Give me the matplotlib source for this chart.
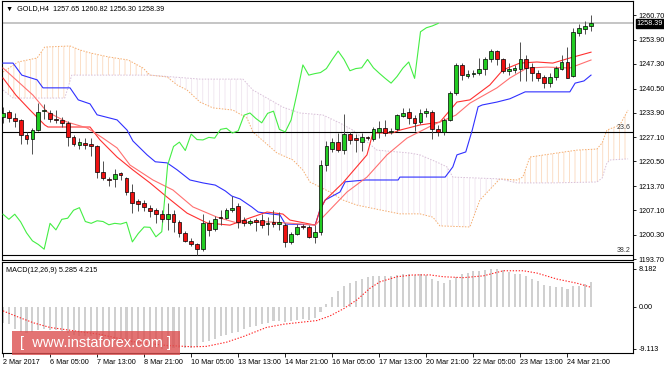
import numpy as np
import matplotlib.pyplot as plt
from matplotlib.patches import Rectangle
import matplotlib.transforms as mtransforms

plt.rcParams['font.family'] = ['Liberation Sans', 'DejaVu Sans']
plt.rcParams['hatch.linewidth'] = 0.5

# GOLD H4 candles, bar 0..100
opens = [1232.8, 1234.2, 1232.5, 1231.9, 1227.8, 1226.7, 1229.0, 1234.4, 1233.9, 1232.2,
         1231.9, 1231.0, 1227.3, 1225.0, 1225.6, 1225.3, 1224.6, 1217.5, 1215.7, 1215.6,
         1217.3, 1216.0, 1212.2, 1209.6, 1209.0, 1207.8, 1207.1, 1206.0, 1204.6, 1206.0,
         1203.9, 1200.9, 1198.7, 1197.7, 1196.4, 1203.5, 1201.9, 1205.3, 1205.0, 1207.1,
         1208.2, 1204.4, 1203.5, 1204.3, 1204.4, 1203.2, 1203.8, 1203.3, 1203.0, 1198.4,
         1200.7, 1202.7, 1202.4, 1199.8, 1201.2, 1219.5, 1224.0, 1225.8, 1223.5, 1228.0,
         1226.8, 1225.9, 1227.0, 1226.6, 1228.5, 1229.6, 1228.5, 1229.3, 1233.1, 1234.0,
         1232.3, 1231.4, 1233.7, 1234.2, 1229.3, 1228.6, 1231.9, 1239.2, 1247.0, 1244.0,
         1244.4, 1244.9, 1245.8, 1248.5, 1250.8, 1248.5, 1245.4, 1245.6, 1245.9, 1248.6,
         1246.5, 1244.7, 1243.8, 1242.0, 1243.8, 1246.0, 1247.9, 1244.0, 1255.9, 1256.9,
         1257.65]
highs = [1235.5, 1234.6, 1233.7, 1232.2, 1228.5, 1229.6, 1236.5, 1236.3, 1234.5, 1234.6,
         1232.6, 1231.6, 1227.7, 1226.8, 1226.8, 1226.8, 1224.9, 1220.5, 1216.3, 1218.4,
         1217.7, 1216.2, 1214.2, 1210.2, 1209.8, 1208.5, 1207.6, 1207.1, 1209.1, 1207.1,
         1204.5, 1201.3, 1199.5, 1198.0, 1206.0, 1204.4, 1205.5, 1207.1, 1207.8, 1211.1,
         1209.1, 1205.3, 1204.8, 1204.9, 1206.0, 1205.3, 1207.1, 1206.6, 1203.5, 1201.2,
         1203.3, 1203.3, 1203.1, 1203.0, 1220.9, 1226.0, 1226.8, 1228.2, 1233.5, 1228.7,
         1228.0, 1228.3, 1227.6, 1229.9, 1231.7, 1231.8, 1229.6, 1233.5, 1235.1, 1235.1,
         1233.3, 1234.8, 1235.1, 1234.5, 1230.5, 1232.3, 1239.9, 1247.5, 1247.5, 1245.7,
         1245.5, 1248.8, 1249.3, 1251.4, 1251.1, 1249.0, 1247.5, 1247.0, 1253.2, 1249.8,
         1247.5, 1245.5, 1244.2, 1244.7, 1246.7, 1249.7, 1252.0, 1257.0, 1258.1, 1259.0,
         1260.82]
lows = [1231.1, 1231.4, 1230.0, 1225.2, 1225.3, 1222.4, 1228.8, 1232.2, 1231.3, 1231.0,
        1229.9, 1224.7, 1224.6, 1223.8, 1223.9, 1222.0, 1216.0, 1215.4, 1213.8, 1213.5,
        1215.5, 1211.3, 1206.2, 1206.8, 1207.0, 1205.3, 1203.5, 1203.9, 1201.7, 1201.2,
        1199.8, 1198.4, 1197.3, 1194.9, 1196.0, 1199.9, 1201.5, 1203.0, 1204.6, 1206.7,
        1202.2, 1202.9, 1203.1, 1201.5, 1202.2, 1200.3, 1202.4, 1201.8, 1197.0, 1197.9,
        1200.3, 1201.9, 1199.5, 1198.1, 1200.3, 1217.8, 1223.2, 1223.2, 1222.5, 1225.2,
        1223.0, 1223.3, 1226.4, 1226.2, 1226.9, 1227.5, 1228.0, 1228.8, 1232.6, 1230.9,
        1228.8, 1230.7, 1232.7, 1226.6, 1227.5, 1227.7, 1231.5, 1238.7, 1242.9, 1243.4,
        1243.6, 1244.2, 1244.2, 1247.8, 1247.0, 1244.9, 1244.2, 1244.8, 1242.5, 1242.5,
        1242.5, 1242.6, 1240.6, 1241.0, 1242.9, 1245.6, 1243.3, 1243.6, 1255.0, 1255.6,
        1256.30]
closes = [1233.8, 1232.3, 1231.7, 1227.8, 1226.7, 1229.2, 1234.2, 1234.6, 1232.1, 1231.8,
          1231.0, 1227.3, 1225.2, 1225.7, 1225.0, 1224.6, 1217.5, 1215.9, 1215.3, 1217.1,
          1216.7, 1212.2, 1209.0, 1208.7, 1208.1, 1207.0, 1206.0, 1204.6, 1206.0, 1203.9,
          1200.9, 1198.7, 1197.7, 1196.4, 1203.5, 1201.7, 1204.6, 1204.9, 1207.1, 1207.8,
          1204.0, 1203.5, 1204.2, 1204.0, 1203.1, 1203.5, 1203.3, 1203.8, 1198.4, 1200.7,
          1202.5, 1202.4, 1199.8, 1201.2, 1219.5, 1224.6, 1225.8, 1223.5, 1228.0, 1226.5,
          1226.4, 1227.1, 1226.9, 1229.3, 1229.6, 1228.3, 1228.9, 1233.2, 1233.8, 1232.3,
          1231.1, 1233.7, 1234.3, 1229.3, 1228.6, 1231.9, 1239.2, 1247.0, 1244.2, 1244.6,
          1244.9, 1246.0, 1248.5, 1250.8, 1248.5, 1245.4, 1246.0, 1246.2, 1248.5, 1246.2,
          1244.7, 1243.3, 1242.0, 1243.8, 1246.1, 1247.8, 1243.3, 1256.1, 1257.2, 1257.7,
          1258.39]

# Ichimoku lines (bar position, price)
kijun_x = [0, 1.7, 3.2, 5.8, 6.8, 11.4, 12.8, 14.8, 16, 19.4, 21.1, 22.1, 24.5, 25.9, 27.9,
           29.6, 31.8, 34, 36.1, 37.8, 38.9, 40.3, 42.3, 43.4, 45.4, 47.1, 48, 53.1, 53.9,
           54.8, 57.3, 58.2, 61.6, 67.2, 67.5, 75.2, 76.5, 77.2, 78.7, 79.8, 80.8, 81.5,
           84, 86.2, 88.8, 96.4, 97.3, 98.8, 100]
kijun_y = [1247.5, 1247.5, 1244.2, 1242.9, 1240.7, 1240.7, 1237.4, 1236.3, 1233.3, 1231.9,
           1229.1, 1226.1, 1222.3, 1220.4, 1220.1, 1218.2, 1215.4, 1214.6, 1214.0, 1212.4,
           1211.0, 1210.2, 1208.0, 1206.6, 1206.1, 1205.8, 1203.3, 1203.1, 1207.2, 1209.9,
           1212.1, 1214.9, 1215.4, 1215.4, 1216.2, 1216.2, 1219.0, 1222.3, 1223.1, 1229.1,
           1235.5, 1236.0, 1236.8, 1237.7, 1239.6, 1239.6, 1242.0, 1242.6, 1244.2]

tenkan_x = [0, 2.2, 4.6, 7.1, 7.65, 14.8, 16.5, 19.4, 22.1, 25.0, 27.9, 31.3, 34.7, 38.6,
            42.0, 44.9, 47.6, 48.8, 53.1, 53.9, 54.8, 57.8, 61.9, 62.9, 66.2, 67.5, 70.9,
            74.3, 77.2, 79.4, 82.8, 85.0, 87.9, 90.8, 93.5, 96.4, 100]
tenkan_y = [1243.4, 1238.7, 1234.6, 1230.5, 1229.95, 1229.95, 1226.4, 1221.7, 1218.15, 1214.6,
            1210.7, 1206.3, 1203.6, 1203.0, 1205.0, 1206.6, 1206.05, 1204.4, 1203.0, 1207.2,
            1209.9, 1214.6, 1222.3, 1228.3, 1228.3, 1229.1, 1230.5, 1231.3, 1236.8, 1237.4,
            1241.5, 1245.6, 1247.5, 1247.8, 1247.5, 1248.9, 1250.5]

ma_x = [0, 5.1, 7.5, 10.9, 14.3, 17.0, 19.4, 21.6, 25.5, 28.9, 32.3, 36.4, 39.8, 44.9, 48.3,
        53.1, 58.5, 61.9, 65.3, 68.7, 73.1, 77.0, 79.4, 84.0, 86.2, 89.1, 92.5, 96.4, 100]
ma_y = [1246.15, 1238.7, 1234.1, 1231.3, 1229.7, 1226.9, 1224.2, 1219.5, 1215.4, 1212.65,
        1208.0, 1205.2, 1203.6, 1203.9, 1203.6, 1203.0, 1212.1, 1216.2, 1222.3, 1226.9,
        1230.5, 1233.2, 1236.5, 1240.7, 1243.4, 1246.15, 1246.4, 1246.15, 1248.35]

span_a_x = [0, 2.55, 5.8, 7.1, 11.4, 13.1, 14.8, 17.9, 21.3, 23.8, 25.0, 27.9, 29.6, 31.3,
            33.5, 35.7, 39.1, 41.5, 42.5, 46.6, 49.3, 51.0, 52.2, 55.6, 57.8, 60.2, 64.1,
            67.5, 70.9, 73.1, 74.3, 79.4, 81.1, 84.5, 87.4, 88.4, 89.6, 94.2, 97.6, 101.0,
            101.9, 102.7, 104.9, 106.3]
span_a_y = [1245.05, 1247.8, 1248.9, 1251.9, 1252.2, 1251.1, 1250.3, 1249.2, 1248.35, 1246.15,
            1244.2, 1243.7, 1241.5, 1240.1, 1236.8, 1235.2, 1234.6, 1232.4, 1228.6, 1222.8,
            1220.9, 1218.1, 1214.85, 1212.1, 1209.9, 1208.5, 1207.2, 1206.1, 1206.1, 1205.2,
            1202.8, 1202.5, 1209.9, 1215.7, 1215.4, 1216.2, 1221.7, 1222.8, 1223.6, 1223.9,
            1225.6, 1229.1, 1230.5, 1234.6]
span_b_x = [0, 1.7, 10.5, 11.7, 25.0, 33.5, 40.8, 42.5, 47.6, 50.5, 54.4, 57.3, 59.5, 63.6,
            69.2, 70.9, 73.8, 75.5, 76.5, 84.5, 87.4, 93.5, 101.0, 101.9, 102.7, 103.3, 106.3]
span_b_y = [1240.1, 1237.9, 1237.9, 1244.2, 1244.2, 1243.1, 1243.1, 1240.1, 1235.4, 1233.8,
            1233.25, 1231.05, 1229.1, 1223.6, 1222.8, 1222.3, 1220.3, 1219.0, 1216.2, 1215.7,
            1214.6, 1214.6, 1214.85, 1215.95, 1220.1, 1220.9, 1221.2]
cloud_cross = [25.0, 84.5]

# MACD(12,26,9)
macd_hist = [-3.6, -3.8, -4.9, -5.4, -5.6, -5.5, -5.0, -4.9, -5.0, -5.1,
             -5.3, -5.8, -6.2, -6.3, -6.3, -6.4, -7.2, -7.6, -7.8, -7.7,
             -7.6, -7.9, -8.4, -8.6, -8.8, -8.9, -9.0, -9.113, -8.9, -8.9,
             -9.0, -8.9, -8.9, -8.8, -7.7, -7.4, -6.95, -6.45, -6.1, -5.8,
             -5.4, -4.8, -4.3, -4.1, -3.8, -3.6, -3.2, -3.1, -3.3, -3.1,
             -2.9, -2.65, -2.9, -2.4, -1.2, 0.6, 2.2, 3.4, 4.4, 5.1,
             5.6, 6.1, 6.35, 6.6, 6.7, 6.7, 6.6, 6.9, 7.1, 7.1,
             6.9, 7.1, 6.8, 6.1, 5.6, 5.25, 5.8, 6.35, 7.1, 7.3,
             7.7, 7.8, 8.0, 8.1, 8.182, 8.0, 7.5, 7.1, 7.1, 6.6,
             6.1, 5.5, 4.7, 4.45, 4.3, 4.2, 3.8, 4.5, 4.6, 4.9,
             5.285]
signal_x = [0, 2.3, 5.2, 8.0, 10.8, 16.5, 22.2, 27.8, 32.4, 34.6, 38.0, 40.9, 44.8, 47.7,
            50.5, 53.4, 55.6, 57.9, 60.2, 62.4, 64.1, 67.0, 69.8, 72.6, 74.9, 78.3, 81.7,
            85.1, 88.5, 90.8, 94.2, 97.6, 100]
signal_y = [-0.9, -2.1, -3.5, -4.5, -5.0, -6.0, -7.6, -8.4, -8.7, -8.6, -7.7, -6.45, -4.5,
            -3.8, -3.4, -3.0, -2.0, -0.45, 1.5, 4.0, 5.4, 6.5, 6.9, 6.9, 6.5, 6.3, 6.7, 7.8,
            7.8, 7.3, 6.0, 5.1, 4.215]

price_ticks = [1260.70, 1253.90, 1247.30, 1240.50, 1233.90, 1227.10, 1220.50, 1213.70,
               1207.10, 1200.30, 1193.70]
date_ticks = [0, 8, 16, 24, 32, 40, 48, 56, 64, 72, 80, 88, 96]
date_labels = ['2 Mar 2017', '6 Mar 05:00', '7 Mar 13:00', '8 Mar 21:00', '10 Mar 05:00',
               '13 Mar 13:00', '14 Mar 21:00', '16 Mar 05:00', '17 Mar 13:00',
               '20 Mar 21:00', '22 Mar 05:00', '23 Mar 13:00', '24 Mar 21:00']
fib_levels = [1228.6, 1194.9]
fib_labels = ['23.6', '38.2']
bid = 1258.39

W, H = 664, 369
fig = plt.figure(figsize=(W / 100, H / 100), dpi=100)
ax = fig.add_axes([2 / W, 1 - 260 / H, 631 / W, 259 / H])
mx = fig.add_axes([2 / W, 1 - 353 / H, 631 / W, 91 / H])

xl = (-0.17, 107.14)
bars = np.arange(len(closes))
o, h, l, c = map(np.array, (opens, highs, lows, closes))

# cloud (dotted hatch between span A and span B)
ax_arr, ay_arr = np.array(span_a_x), np.array(span_a_y)
bx_arr, by_arr = np.array(span_b_x), np.array(span_b_y)
edges = [xl[0] - 1, cloud_cross[0], cloud_cross[1], 200]
cols = ['#f4a460', '#d8bfd8', '#f4a460']
for k in range(3):
    ma_ = (ax_arr >= edges[k]) & (ax_arr <= edges[k + 1])
    mb_ = (bx_arr >= edges[k]) & (bx_arr <= edges[k + 1])
    px = np.r_[ax_arr[ma_], bx_arr[mb_][::-1]]
    py = np.r_[ay_arr[ma_], by_arr[mb_][::-1]]
    ax.fill(px, py, facecolor='none', edgecolor=cols[k], hatch='|||', lw=0, alpha=0.5, zorder=1)
ax.plot(span_a_x, span_a_y, color='#f4a460', lw=0.7, ls=(0, (1.5, 1.5)), alpha=0.9, zorder=1)
ax.plot(span_b_x, span_b_y, color='#d8bfd8', lw=0.7, ls=(0, (1.5, 1.5)), zorder=1)

# levels
ax.axhline(bid, color='#c0c0c0', lw=1.3, zorder=1)
for lv, lb in zip(fib_levels, fib_labels):
    ax.axhline(lv, color='black', lw=0.8, zorder=2)
    ax.text(106.7, lv + 0.3, lb, fontsize=5, ha='right', va='bottom', color='#333333')

# indicator lines
ax.plot(kijun_x, kijun_y, color='#3030ff', lw=0.8, zorder=3)
ax.plot(tenkan_x, tenkan_y, color='#ff3030', lw=0.8, zorder=3)
ax.plot(ma_x, ma_y, color='#ff7070', lw=0.8, zorder=3)
ax.plot(bars[:len(closes) - 26], closes[26:], color='#44ee44', lw=0.8, zorder=3)

# candles
up = c >= o
ax.vlines(bars, l, h, color='#505050', lw=0.7, zorder=4)
body_lo = np.minimum(o, c)
body_h = np.maximum(np.abs(c - o), 0.2)
ax.bar(bars[up], body_h[up], bottom=body_lo[up], width=0.64, color='#22cc22',
       edgecolor='black', lw=0.5, zorder=5)
ax.bar(bars[~up], body_h[~up], bottom=body_lo[~up], width=0.64, color='#ee1111',
       edgecolor='black', lw=0.5, zorder=5)

ax.set_xlim(*xl)
ax.set_ylim(1193.43, 1264.55)
ax.set_xticks([])
ax.yaxis.tick_right()
ax.set_yticks(price_ticks)
ax.set_yticklabels(['%.2f' % v for v in price_ticks])
ax.tick_params(axis='y', labelsize=5.2, length=2, pad=2, width=0.6)
for s in ax.spines.values():
    s.set_linewidth(0.8)

trans = mtransforms.blended_transform_factory(ax.transAxes, ax.transData)
ax.text(1.006, bid, '%.2f' % bid, transform=trans, fontsize=5.2, color='white', va='center',
        ha='left', bbox=dict(boxstyle='square,pad=0.15', fc='black', ec='black'))
ax.text(0.006, 0.985, '\u25bc  GOLD,H4  1257.65 1260.82 1256.30 1258.39',
        transform=ax.transAxes, fontsize=5.2, va='top', ha='left')

# MACD panel
mx.bar(bars, macd_hist, width=0.35, color='#d0d0d0', zorder=2)
mx.plot(signal_x, signal_y, color='#ff2020', lw=0.8, ls=(0, (1.2, 1.5)), zorder=3)
mx.set_xlim(*xl)
mx.set_ylim(-10.04, 9.7)
mx.yaxis.tick_right()
mx.set_yticks([8.182, 0, -9.113])
mx.set_yticklabels(['8.182', '0.00', '-9.113'])
mx.tick_params(axis='y', labelsize=5.2, length=2, pad=2, width=0.6)
mx.set_xticks(date_ticks)
mx.set_xticklabels(date_labels, ha='left')
mx.tick_params(axis='x', labelsize=5.2, length=3, pad=1, width=0.6)
for s in mx.spines.values():
    s.set_linewidth(0.8)
mx.text(0.006, 0.95, 'MACD(12,26,9) 5.285 4.215', transform=mx.transAxes,
        fontsize=5.2, va='top', ha='left')

# watermark
fig.patches.append(Rectangle((12 / W, 1 - 355 / H), 168 / W, 24 / H, transform=fig.transFigure,
                             facecolor='#dc5050', alpha=0.8, edgecolor='none', zorder=10))
fig.text(96 / W, 1 - 343 / H, '[  www.instaforex.com ]', color='white', fontsize=10.5,
         ha='center', va='center', zorder=11)

fig.savefig('out.png', dpi=100, facecolor='white')
